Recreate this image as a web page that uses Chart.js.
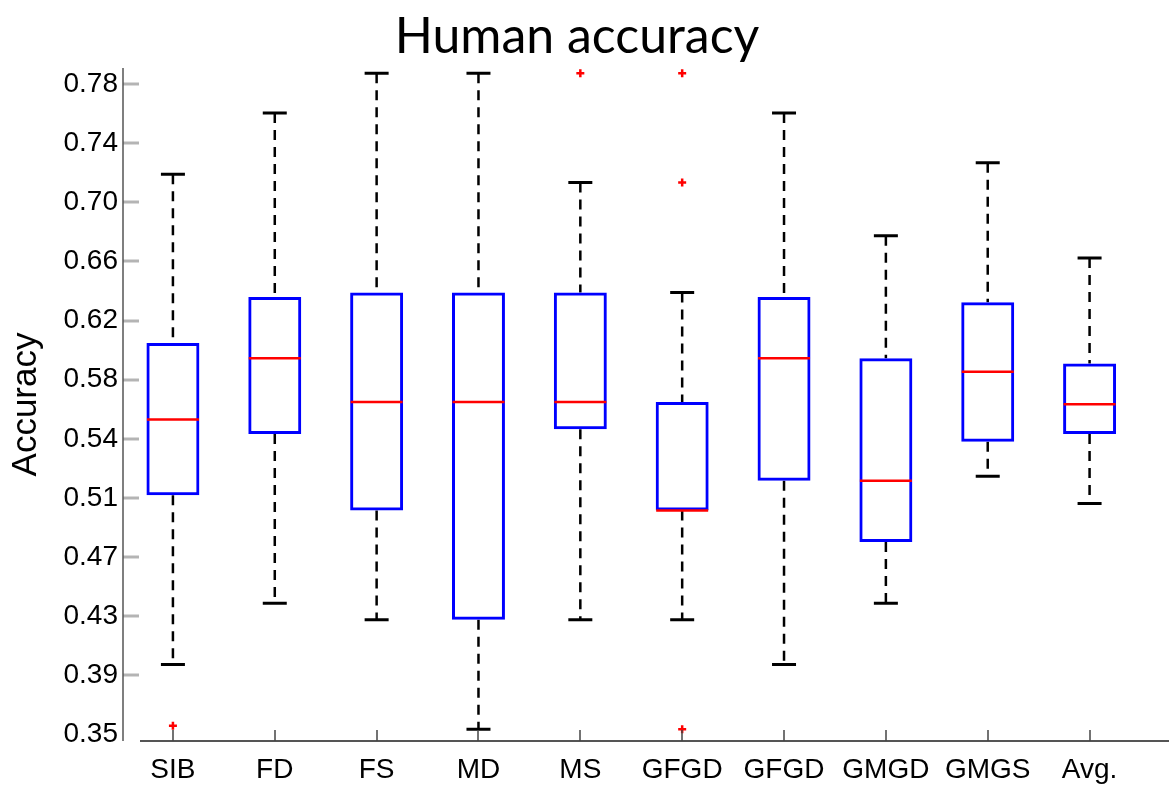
<!DOCTYPE html>
<html>
<head>
<meta charset="utf-8">
<title>Human accuracy</title>
<script src="https://cdn.jsdelivr.net/npm/chart.js@4.4.1/dist/chart.umd.min.js"></script>
<style>
  html, body { margin: 0; padding: 0; background: #fff; }
  #wrap { width: 1169px; height: 793px; }
</style>
</head>
<body>
<div id="wrap"><canvas id="accChart" width="1169" height="793"></canvas></div>
<script>
// --- DATA ---
const categories = ['SIB', 'FD', 'FS', 'MD', 'MS', 'GFGD', 'GFGD', 'GMGD', 'GMGS', 'Avg.'];
const lowerWhisker = [0.3963, 0.4368, 0.4258, 0.3535, 0.4258, 0.4258, 0.3963, 0.4368, 0.5207, 0.5028];
const q1 = [0.5082, 0.5487, 0.4981, 0.4258, 0.5519, 0.4981, 0.5177, 0.4773, 0.5435, 0.5487];
const medians = [0.5583, 0.5988, 0.5699, 0.5699, 0.5699, 0.4981, 0.5988, 0.5177, 0.5898, 0.5684];
const q3 = [0.6089, 0.6393, 0.6422, 0.6422, 0.6422, 0.5699, 0.6393, 0.5988, 0.6358, 0.5953];
const upperWhisker = [0.7205, 0.7610, 0.7873, 0.7873, 0.7150, 0.6422, 0.7610, 0.6797, 0.7281, 0.6650];
// outliers, one value per category (null = none)
const outliersTop = [null, null, null, null, 0.7873, 0.7873, null, null, null, null];
const outliersMid = [null, null, null, null, null, 0.7150, null, null, null, null];
const outliersLow = [0.3558, null, null, null, null, 0.3535, null, null, null, null];
const tickValues = [0.3500, 0.3891, 0.4282, 0.4673, 0.5064, 0.5455, 0.5846, 0.6237, 0.6628, 0.7019, 0.7410, 0.7801];
const tickLabels = ['0.35', '0.39', '0.43', '0.47', '0.51', '0.54', '0.58', '0.62', '0.66', '0.70', '0.74', '0.78'];

Chart.defaults.font.family = '"Liberation Sans", Arial, sans-serif';
Chart.defaults.color = '#000';

// dashed whiskers + matlab-like axes
const boxDecor = {
    id: 'boxDecor',
    beforeDatasetsDraw(chart) {
        const { ctx, scales: { x, y } } = chart;
        ctx.save();
        ctx.strokeStyle = '#000';
        ctx.lineWidth = 2.5;
        ctx.setLineDash([10, 7]);
        categories.forEach((c, i) => {
            const px = x.getPixelForValue(i);
            ctx.beginPath();
            ctx.moveTo(px, y.getPixelForValue(upperWhisker[i]));
            ctx.lineTo(px, y.getPixelForValue(q3[i]));
            ctx.stroke();
            ctx.beginPath();
            ctx.moveTo(px, y.getPixelForValue(q1[i]));
            ctx.lineTo(px, y.getPixelForValue(lowerWhisker[i]));
            ctx.stroke();
        });
        ctx.restore();
    },
    afterDraw(chart) {
        const { ctx, chartArea: a, scales: { x, y } } = chart;
        ctx.save();
        // y tick marks (inside)
        ctx.strokeStyle = '#b4b4b4';
        ctx.lineWidth = 3;
        tickValues.forEach((v, k) => {
            if (k === 0) return;
            const py = Math.round(y.getPixelForValue(v));
            ctx.beginPath();
            ctx.moveTo(a.left + 1, py);
            ctx.lineTo(a.left + 17, py);
            ctx.stroke();
        });
        // y axis line
        ctx.strokeStyle = '#555';
        ctx.lineWidth = 1.5;
        ctx.beginPath();
        ctx.moveTo(a.left + 1, a.top);
        ctx.lineTo(a.left + 1, a.bottom);
        ctx.stroke();
        // x axis line
        ctx.lineWidth = 2;
        ctx.beginPath();
        ctx.moveTo(a.left + 18, a.bottom);
        ctx.lineTo(chart.width, a.bottom);
        ctx.stroke();
        // x tick marks (inside)
        ctx.strokeStyle = '#444';
        ctx.lineWidth = 1.5;
        categories.forEach((c, i) => {
            const px = Math.round(x.getPixelForValue(i));
            ctx.beginPath();
            ctx.moveTo(px, a.bottom);
            ctx.lineTo(px, a.bottom - 11);
            ctx.stroke();
        });
        ctx.restore();
    }
};

const pointMarks = (data, style, radius, color, width, order) => ({
    type: 'line',
    data: data,
    showLine: false,
    pointStyle: style,
    pointRadius: radius,
    pointHoverRadius: radius,
    pointBorderColor: color,
    pointBackgroundColor: color,
    pointBorderWidth: width,
    pointHoverBorderWidth: width,
    order: order
});

new Chart(document.getElementById('accChart'), {
    type: 'bar',
    data: {
        labels: categories,
        datasets: [
            {
                type: 'bar',
                data: q1.map((v, i) => [v, q3[i]]),
                backgroundColor: 'rgba(255,255,255,0)',
                borderColor: '#0000ff',
                borderWidth: 3,
                borderSkipped: false,
                barPercentage: 0.52,
                categoryPercentage: 1,
                order: 3
            },
            pointMarks(medians, 'line', 26, '#ff0000', 2.5, 1),
            pointMarks(upperWhisker, 'line', 12, '#000', 3, 2),
            pointMarks(lowerWhisker, 'line', 12, '#000', 3, 2),
            pointMarks(outliersTop, 'cross', 4, '#ff0000', 2.5, 0),
            pointMarks(outliersMid, 'cross', 4, '#ff0000', 2.5, 0),
            pointMarks(outliersLow, 'cross', 4, '#ff0000', 2.5, 0)
        ]
    },
    options: {
        responsive: false,
        animation: false,
        layout: { padding: { right: 15 } },
        plugins: {
            legend: { display: false },
            tooltip: { enabled: false },
            title: {
                display: true,
                text: 'Human accuracy',
                color: '#000',
                font: { family: 'Lato', size: 50, weight: 'normal' },
                padding: { top: 7, bottom: 1 }
            }
        },
        scales: {
            x: {
                grid: { display: false, drawTicks: false },
                border: { display: false },
                ticks: {
                    font: { size: 28 },
                    color: '#000',
                    padding: 12,
                    maxRotation: 0,
                    autoSkip: false
                },
                afterFit: (scale) => { scale.height = 52; }
            },
            y: {
                min: 0.3457,
                max: 0.7907,
                grid: { display: false, drawTicks: false },
                border: { display: false },
                afterBuildTicks: (scale) => {
                    scale.ticks = tickValues.map(v => ({ value: v }));
                },
                ticks: {
                    font: { size: 28 },
                    color: '#000',
                    padding: 4,
                    callback: (value, index) => tickLabels[index]
                },
                title: {
                    display: true,
                    text: 'Accuracy',
                    color: '#000',
                    font: { size: 35 },
                    padding: { top: 5, bottom: 0 }
                },
                afterFit: (scale) => { scale.width = 122; }
            }
        }
    },
    plugins: [boxDecor]
});
</script>
</body>
</html>
